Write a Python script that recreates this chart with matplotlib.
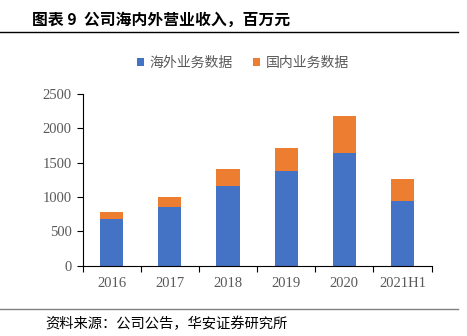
import matplotlib
matplotlib.use("Agg")
from matplotlib import pyplot as plt
from matplotlib.lines import Line2D
import numpy as np

plt.rcParams['font.family'] = ['Noto Sans CJK SC', 'DejaVu Sans']

years = ["2016", "2017", "2018", "2019", "2020", "2021H1"]
overseas = [684, 859, 1156, 1374, 1645, 946]
domestic = [102, 146, 252, 340, 539, 312]

blue = "#4472C4"
orange = "#ED7D31"
grey = "#595959"

fig = plt.figure(figsize=(4.67, 3.36), dpi=100)
ax = fig.add_axes([0.177, 0.209, 0.747, 0.511])

x = np.arange(len(years))
ax.bar(x, overseas, width=0.4, color=blue, label="海外业务数据")
ax.bar(x, domestic, width=0.4, bottom=overseas, color=orange, label="国内业务数据")

ax.set_xlim(-0.5, len(years) - 0.5)
ax.set_ylim(0, 2500)
ax.set_yticks(range(0, 2501, 500))
ax.set_xticks(x)
ax.set_xticklabels(years)
# category boundary ticks on the x axis
ax.set_xticks(np.arange(-0.5, len(years)), minor=True)
ax.tick_params(axis='x', which='major', length=0, pad=8)
ax.tick_params(axis='x', which='minor', length=4, width=0.8, color="black", direction='out')
ax.tick_params(axis='y', length=4, width=0.8, direction='out', pad=4)
for lab in ax.get_xticklabels() + ax.get_yticklabels():
    lab.set_fontfamily("Liberation Serif")
    lab.set_fontsize(10.5)
    lab.set_color(grey)

for s in ["top", "right"]:
    ax.spines[s].set_visible(False)
ax.spines["left"].set_linewidth(0.8)
ax.spines["bottom"].set_linewidth(0.8)

leg = fig.legend(loc="center", bbox_to_anchor=(0.52, 0.812), ncol=2, frameon=False,
                 fontsize=10, handlelength=0.55, handleheight=0.55, handletextpad=0.4,
                 columnspacing=1.4)
for t in leg.get_texts():
    t.set_color(grey)

fig.text(0.068, 0.94, "图表 9  公司海内外营业收入，百万元", fontsize=11.4, fontweight="bold",
         va="center", ha="left")
fig.add_artist(Line2D([0, 0.98], [0.904, 0.904], color="black", linewidth=1.0))
fig.add_artist(Line2D([0, 0.98], [0.08, 0.08], color="#808080", linewidth=1.0))
fig.text(0.096, 0.036, "资料来源：公司公告，华安证券研究所", fontsize=10.3, va="center", ha="left")

fig.savefig("out.png", dpi=100)
